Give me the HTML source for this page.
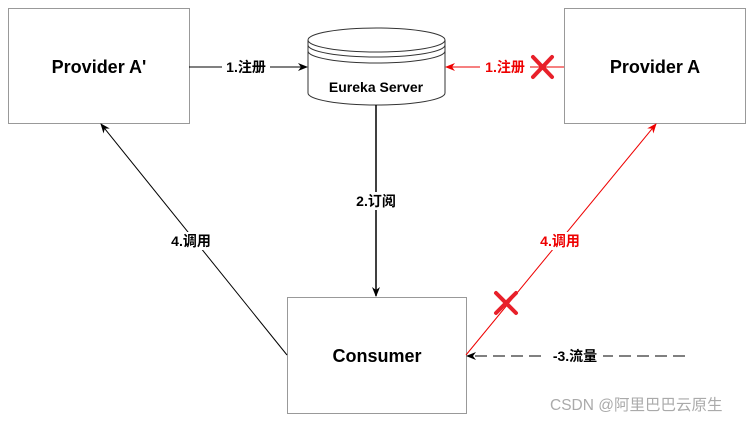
<!DOCTYPE html>
<html><head><meta charset="utf-8"><style>
body{margin:0;width:756px;height:422px;background:#fff;overflow:hidden}
text{font-family:"Liberation Sans","Noto Sans CJK SC",sans-serif}
</style></head><body>
<svg width="756" height="422" viewBox="0 0 756 422" xmlns="http://www.w3.org/2000/svg">
<defs>
<marker id="ab" markerWidth="10" markerHeight="10" refX="9" refY="5" orient="auto" markerUnits="userSpaceOnUse"><path d="M0,1 L10,5 L0,9 L3,5z" fill="#000"/></marker>
<marker id="ar" markerWidth="10" markerHeight="10" refX="9" refY="5" orient="auto" markerUnits="userSpaceOnUse"><path d="M0,1 L10,5 L0,9 L3,5z" fill="#e00"/></marker>
</defs>
<rect x="8.5" y="8.5" width="181" height="115" fill="#fff" stroke="#999"/>
<text x="99" y="73" font-size="18" font-weight="bold" text-anchor="middle">Provider A'</text>
<rect x="564.5" y="8.5" width="181" height="115" fill="#fff" stroke="#999"/>
<text x="655" y="73" font-size="18" font-weight="bold" text-anchor="middle">Provider A</text>
<rect x="287.5" y="297.5" width="179" height="116" fill="#fff" stroke="#999"/>
<text x="377" y="362" font-size="18" font-weight="bold" text-anchor="middle">Consumer</text>
<path d="M308,40 L308,93 A68.5,12 0 0 0 445,93 L445,40" fill="#fff" stroke="#333"/>
<ellipse cx="376.5" cy="40" rx="68.5" ry="12" fill="#fff" stroke="#333"/>
<path d="M308,45 A68.5,12 0 0 0 445,45 M308,51 A68.5,12 0 0 0 445,51" fill="none" stroke="#333"/>
<text x="376" y="92" font-size="14" font-weight="bold" text-anchor="middle">Eureka Server</text>
<line x1="189" y1="67" x2="307" y2="67" stroke="#000" marker-end="url(#ab)"/>
<rect x="222" y="58" width="48" height="18" fill="#fff"/>
<text x="246" y="72" font-size="14" font-weight="bold" text-anchor="middle">1.注册</text>
<line x1="564" y1="67" x2="446" y2="67" stroke="#e00" marker-end="url(#ar)"/>
<rect x="480" y="58" width="50" height="18" fill="#fff"/>
<text x="505" y="72" font-size="14" font-weight="bold" text-anchor="middle" fill="#e00">1.注册</text>
<line x1="376" y1="105" x2="376" y2="296" stroke="#000" stroke-width="1.5" marker-end="url(#ab)"/>
<rect x="352" y="192" width="48" height="18" fill="#fff"/>
<text x="376" y="206" font-size="14" font-weight="bold" text-anchor="middle">2.订阅</text>
<line x1="287" y1="355" x2="101" y2="124" stroke="#000" marker-end="url(#ab)"/>
<rect x="166" y="232" width="50" height="18" fill="#fff"/>
<text x="191" y="246" font-size="14" font-weight="bold" text-anchor="middle">4.调用</text>
<line x1="466" y1="355" x2="656" y2="124" stroke="#e00" marker-end="url(#ar)"/>
<rect x="535" y="232" width="50" height="18" fill="#fff"/>
<text x="560" y="246" font-size="14" font-weight="bold" text-anchor="middle" fill="#e00">4.调用</text>
<line x1="685" y1="356" x2="467" y2="356" stroke="#000" stroke-dasharray="12,6" marker-end="url(#ab)"/>
<rect x="547" y="347" width="56" height="18" fill="#fff"/>
<text x="575" y="361" font-size="14" font-weight="bold" text-anchor="middle">-3.流量</text>
<g stroke="#e8202a" stroke-width="4" stroke-linecap="round">
<line x1="533" y1="57" x2="552" y2="77"/><line x1="552" y1="57" x2="533" y2="77"/>
<line x1="496" y1="293" x2="516" y2="313"/><line x1="516" y1="293" x2="496" y2="313"/>
</g>
<text x="550" y="410" font-size="15.5" fill="#aaa">CSDN @阿里巴巴云原生</text>
</svg>
</body></html>
